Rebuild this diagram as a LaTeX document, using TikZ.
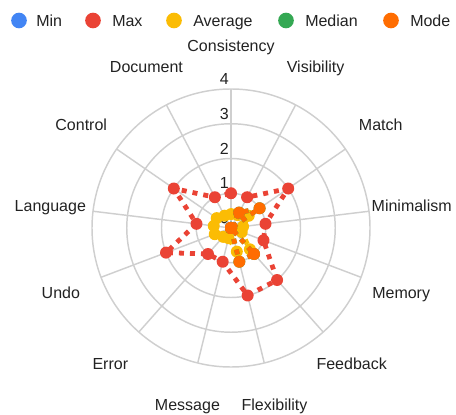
\documentclass[tikz,border=0pt]{standalone}
\usepackage{fontspec}
\setmainfont{Liberation Sans}
\definecolor{gridgray}{HTML}{CFCFCF}
\definecolor{txt}{HTML}{222222}
\definecolor{cmin}{HTML}{4285F4}
\definecolor{cmax}{HTML}{EA4335}
\definecolor{cavg}{HTML}{FBBC04}
\definecolor{cmed}{HTML}{34A853}
\definecolor{cmode}{HTML}{FF6D01}
\begin{document}
\begin{tikzpicture}[x=0.75pt,y=0.75pt,
  grid/.style={draw=gridgray,line width=1.1pt},
  axislabel/.style={font=\fontsize{12}{14}\selectfont, text=txt, inner sep=0pt, text height=8.6pt, text depth=0pt, anchor=center},
  ticklabel/.style={font=\fontsize{12}{14}\selectfont, text=txt, inner sep=0pt, anchor=south east},
  series/.style={line width=3.6pt, dash pattern=on 3.75pt off 4.5pt},
  marker/.style={circle, inner sep=0pt, minimum size=9pt},
  legdot/.style={circle, inner sep=0pt, minimum size=11.75pt},
  legtext/.style={font=\fontsize{12}{14}\selectfont, text=txt, inner sep=0pt, anchor=base west}]
\useasboundingbox (0,0) rectangle (456,414);
\coordinate (C) at (231,186);
\def\u{34.75}
% rings
\foreach \r in {1,2,3,4} \draw[grid] (C) circle[radius=\r*\u];
% spokes
\foreach \i in {0,...,12} {
  \path (C) ++({90-\i*360/13}:{4*\u}) coordinate (s\i);
  \draw[grid] (C) -- (s\i);
}
% tick labels
\foreach \r in {0,1,2,3,4}
  \node[ticklabel] (tick\r) at ([shift={(-2,{\r*\u+4})}]C) {\r};
% axis labels
\foreach \i/\name in {0/Consistency,1/Visibility,2/Match,3/Minimalism,4/Memory,5/Feedback,6/Flexibility,7/Message,8/Error,9/Undo,10/Language,11/Control,12/Document}
  \path (C) ++({90-\i*360/13}:182) node[axislabel] (lab\i) {\name};
% data
\def\mindata{{0,0,0,0,0,0,0,0,0,0,0,0,0}}
\def\maxdata{{1,1,2,1,1,2,2,1,1,2,1,2,1}}
\def\avgdata{{0.4,0.42,0.62,0.35,0.33,0.82,0.7,0.3,0.34,0.5,0.5,0.5,0.4}}
\def\meddata{{0,0.5,1,0,0,1,1,0,0,0,0,0,0}}
\def\modedata{{0,0.5,1,0,0,1,1,0,0,0,0,0,0}}
\foreach \s/\arr in {min/\mindata,max/\maxdata,avg/\avgdata,med/\meddata,mode/\modedata} {
  \foreach \i in {0,...,12} {
    \pgfmathsetmacro\v{\arr[\i]}
    \path (C) ++({90-\i*360/13}:{\v*\u}) coordinate (\s\i);
  }
}
% Min
\draw[series, cmin] (min0) -- (min1) -- (min2) -- (min3) -- (min4) -- (min5) -- (min6) -- (min7) -- (min8) -- (min9) -- (min10) -- (min11) -- (min12) -- cycle;
\foreach \i in {0,...,12} \node[marker, fill=cmin] (pmin\i) at (min\i) {};
% Max
\draw[series, cmax] (max0) -- (max1) -- (max2) -- (max3) -- (max4) -- (max5) -- (max6) -- (max7) -- (max8) -- (max9) -- (max10) -- (max11) -- (max12) -- cycle;
\foreach \i in {0,...,12} \node[marker, fill=cmax] (pmax\i) at (max\i) {};
% Average
\draw[series, cavg] (avg0) -- (avg1) -- (avg2) -- (avg3) -- (avg4) -- (avg5) -- (avg6) -- (avg7) -- (avg8) -- (avg9) -- (avg10) -- (avg11) -- (avg12) -- cycle;
\foreach \i in {0,...,12} \node[marker, fill=cavg] (pavg\i) at (avg\i) {};
% Median
\draw[series, cmed] (med0) -- (med1) -- (med2) -- (med3) -- (med4) -- (med5) -- (med6) -- (med7) -- (med8) -- (med9) -- (med10) -- (med11) -- (med12) -- cycle;
\foreach \i in {0,...,12} \node[marker, fill=cmed] (pmed\i) at (med\i) {};
% Mode
\draw[series, cmode] (mode0) -- (mode1) -- (mode2) -- (mode3) -- (mode4) -- (mode5) -- (mode6) -- (mode7) -- (mode8) -- (mode9) -- (mode10) -- (mode11) -- (mode12) -- cycle;
\foreach \i in {0,...,12} \node[marker, fill=cmode] (pmode\i) at (mode\i) {};
% legend
\foreach \k/\c/\cx/\tx/\t in {lmin/cmin/19/36/Min, lmax/cmax/93/112/Max, lavg/cavg/174/193/Average, lmed/cmed/286/305/Median, lmode/cmode/391/410/Mode} {
  \node[legdot, fill=\c] (\k) at (\cx,393.5) {};
  \node[legtext] (\k t) at (\tx,387.3) {\t};
}
\end{tikzpicture}
\end{document}
